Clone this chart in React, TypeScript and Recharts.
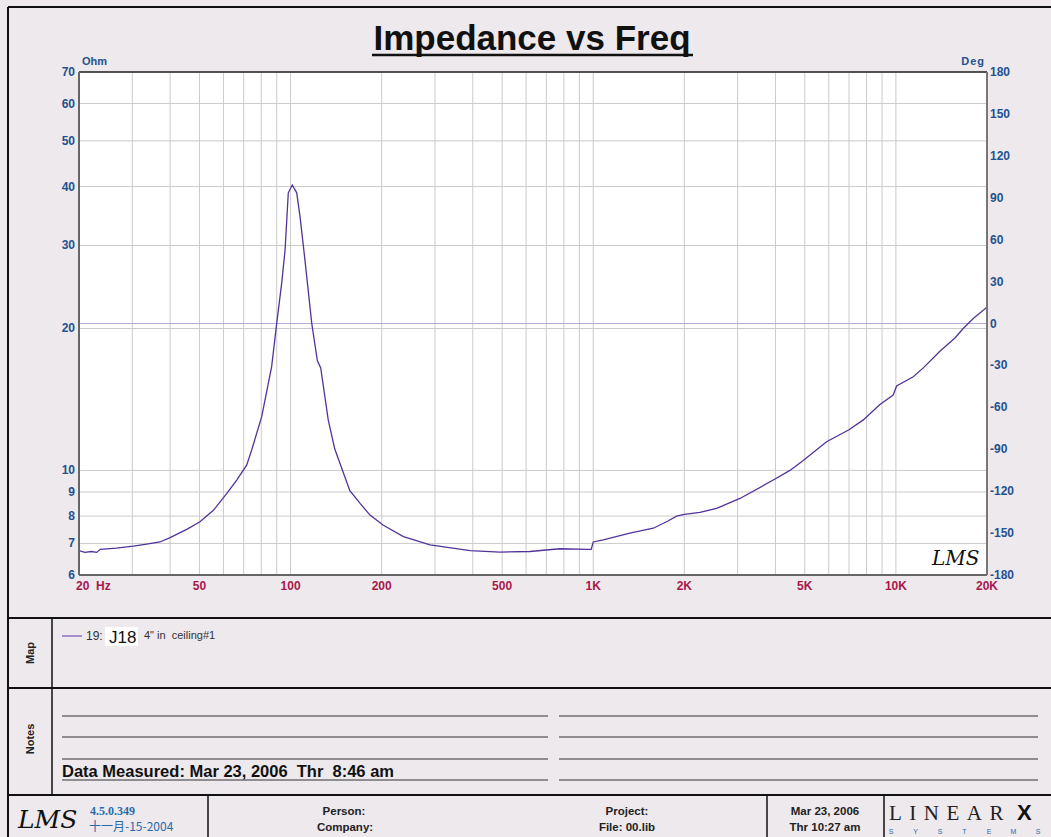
import React from "react";
import {
  LineChart,
  Line,
  XAxis,
  YAxis,
  CartesianGrid,
  ReferenceLine,
} from "recharts";

// impedance sweep
const freqHz = [
  20, 20.9, 22, 22.9, 23.5, 26.6, 30.2, 33.5, 37, 40, 45.4, 50.2, 55.6, 61.5,
  66.4, 71.6, 74.4, 80.3, 86.6, 90, 93.5, 95.9, 98.3, 101.3, 104.8, 107.5,
  111.6, 117.5, 122.6, 125.8, 133.2, 140, 157, 170, 183, 202, 236, 289, 392,
  492, 618, 776, 963, 985, 1000, 1079, 1322, 1579, 1760, 1886, 2000, 2252,
  2557, 3054, 3934, 4466, 4941, 5903, 7000, 7803, 8858, 9796, 10054, 11412,
  12317, 13977, 15670, 16690, 18010, 20000,
];
const impedanceOhm = [
  6.76, 6.7, 6.73, 6.7, 6.8, 6.84, 6.91, 6.98, 7.05, 7.2, 7.5, 7.78, 8.23,
  8.93, 9.54, 10.26, 11.05, 13.0, 16.6, 20.5, 25.0, 29.3, 38.8, 40.3, 38.8,
  34.5, 27.9, 20.5, 17.1, 16.5, 12.8, 11.1, 9.06, 8.5, 8.04, 7.66, 7.24, 6.95,
  6.76, 6.71, 6.73, 6.82, 6.8, 6.8, 7.05, 7.12, 7.36, 7.54, 7.8, 8.0, 8.07,
  8.15, 8.31, 8.72, 9.54, 10.0, 10.5, 11.5, 12.2, 12.8, 13.8, 14.45, 15.1,
  15.8, 16.5, 17.9, 19.1, 20.0, 21.0, 22.2,
];

const xGridTicks = [
  20, 30, 40, 50, 60, 70, 80, 90, 100, 200, 300, 400, 500, 600, 700, 800, 900,
  1000, 2000, 3000, 4000, 5000, 6000, 7000, 8000, 9000, 10000, 20000,
];
const xTickLabels: Record<number, string> = {
  50: "50",
  100: "100",
  200: "200",
  500: "500",
  1000: "1K",
  2000: "2K",
  5000: "5K",
  10000: "10K",
  20000: "20K",
};
const ohmTicks = [6, 7, 8, 9, 10, 20, 30, 40, 50, 60, 70];
const degTicks = [-180, -150, -120, -90, -60, -30, 0, 30, 60, 90, 120, 150, 180];
const systemsLetters = ["S", "Y", "S", "T", "E", "M", "S"];

const data = freqHz.map((f, i) => ({ f, z: impedanceOhm[i] }));

const BG = "#ede9ed";
const BLUE = "#24528f";
const CRIMSON = "#a9174b";
const PURPLE = "#52339a";
const SANS = "'Liberation Sans', Arial, sans-serif";
const SERIF = "'Liberation Serif', 'Times New Roman', serif";

const XTick = (props: any) => {
  const { x, payload } = props;
  const v = payload.value;
  if (v === 20) {
    return (
      <g>
        <text x={76} y={590} fill={CRIMSON} fontSize={12} fontWeight="bold" fontFamily={SANS}>
          20
        </text>
        <text x={96} y={590} fill={CRIMSON} fontSize={12} fontWeight="bold" fontFamily={SANS}>
          Hz
        </text>
      </g>
    );
  }
  const label = xTickLabels[v];
  if (!label) return <g />;
  return (
    <text x={x} y={590} textAnchor="middle" fill={CRIMSON} fontSize={12} fontWeight="bold" fontFamily={SANS}>
      {label}
    </text>
  );
};

const OhmTick = (props: any) => (
  <text x={75} y={props.y + 4} textAnchor="end" fill={BLUE} fontSize={12} fontWeight="bold" fontFamily={SANS}>
    {props.payload.value}
  </text>
);

const DegTick = (props: any) => (
  <text x={990} y={props.y + 4} textAnchor="start" fill={BLUE} fontSize={12} fontWeight="bold" fontFamily={SANS}>
    {props.payload.value}
  </text>
);

const Frame = () => (
  <svg width={1051} height={837} style={{ position: "absolute", left: 0, top: 0 }}>
    {/* outer frame and panel separators */}
    <line x1={8} y1={7} x2={1060} y2={7} stroke="#111" strokeWidth={2} />
    <line x1={8} y1={7} x2={8} y2={840} stroke="#111" strokeWidth={2} />
    <line x1={8} y1={618} x2={1060} y2={618} stroke="#111" strokeWidth={2} />
    <line x1={8} y1={688} x2={1060} y2={688} stroke="#111" strokeWidth={2} />
    <line x1={8} y1={795} x2={1060} y2={795} stroke="#111" strokeWidth={2} />
    <line x1={52} y1={618} x2={52} y2={795} stroke="#111" strokeWidth={1.5} />
    <line x1={208} y1={795} x2={208} y2={840} stroke="#111" strokeWidth={1.5} />
    <line x1={767} y1={795} x2={767} y2={840} stroke="#111" strokeWidth={1.5} />
    <line x1={884} y1={795} x2={884} y2={840} stroke="#111" strokeWidth={1.5} />

    {/* title */}
    <text x={532} y={50} textAnchor="middle" fontSize={35} fontWeight="bold" fontFamily={SANS} fill="#111">
      Impedance vs Freq
    </text>
    <line x1={372} y1={55} x2={693} y2={55} stroke="#111" strokeWidth={2.5} />

    {/* map panel */}
    <text x={34} y={653} transform="rotate(-90 34 653)" textAnchor="middle" fontSize={11} fontWeight="bold" fontFamily={SANS} fill="#222">
      Map
    </text>
    <line x1={62} y1={636} x2={82} y2={636} stroke="#8a70c8" strokeWidth={1.5} />
    <text x={86} y={640} fontSize={12} fontFamily={SANS} fill="#333">19:</text>
    <rect x={105} y={627} width={33} height={19} fill="#fff" />
    <text x={109} y={643} fontSize={17} fontFamily={SANS} fill="#111">J18</text>
    <text x={144} y={639} fontSize={11} fontFamily={SANS} fill="#333" style={{ whiteSpace: "pre" }}>
      4" in  ceiling#1
    </text>

    {/* notes panel */}
    <text x={34} y={739} transform="rotate(-90 34 739)" textAnchor="middle" fontSize={11} fontWeight="bold" fontFamily={SANS} fill="#222">
      Notes
    </text>
    {[716, 737, 759, 780].map((y) => (
      <g key={y}>
        <line x1={62} y1={y} x2={548} y2={y} stroke="#333" strokeWidth={1.2} />
        <line x1={559} y1={y} x2={1038} y2={y} stroke="#333" strokeWidth={1.2} />
      </g>
    ))}
    <text x={62} y={777} fontSize={16.5} fontWeight="bold" fontFamily={SANS} fill="#111" style={{ whiteSpace: "pre" }}>
      Data Measured: Mar 23, 2006  Thr  8:46 am
    </text>

    {/* footer */}
    <text x={18} y={828} fontSize={25} fontStyle="italic" fontFamily="'DejaVu Serif', serif" fill="#111">
      LMS
    </text>
    <text x={90} y={815} fontSize={12} fontWeight="bold" fontFamily={SERIF} fill="#2a6aa8">4.5.0.349</text>
    <text x={89} y={831} fontSize={12} fontFamily="'Noto Sans CJK SC', sans-serif" fill="#2a6aa8">十一月-15-2004</text>
    <text x={344} y={815} textAnchor="middle" fontSize={11.5} fontWeight="bold" fontFamily={SANS} fill="#222">Person:</text>
    <text x={345} y={831} textAnchor="middle" fontSize={11.5} fontWeight="bold" fontFamily={SANS} fill="#222">Company:</text>
    <text x={627} y={815} textAnchor="middle" fontSize={11.5} fontWeight="bold" fontFamily={SANS} fill="#222">Project:</text>
    <text x={627} y={831} textAnchor="middle" fontSize={11.5} fontWeight="bold" fontFamily={SANS} fill="#222">File: 00.lib</text>
    <text x={825} y={815} textAnchor="middle" fontSize={11.5} fontWeight="bold" fontFamily={SANS} fill="#222">Mar 23, 2006</text>
    <text x={825} y={831} textAnchor="middle" fontSize={11.5} fontWeight="bold" fontFamily={SANS} fill="#222">Thr 10:27 am</text>
    <text x={889} y={820} fontSize={21} fontFamily={SERIF} fill="#222" letterSpacing={7.5}>LINEAR</text>
    <text x={1017} y={820} fontSize={22} fontWeight="bold" fontFamily={SANS} fill="#111">X</text>
    {systemsLetters.map((c, i) => (
      <text key={i} x={891 + i * 24.5} y={834} fontSize={7} fontFamily={SANS} fill="#2a6aa8" textAnchor="middle">
        {c}
      </text>
    ))}
  </svg>
);

export default function App() {
  return (
    <div
      style={{
        position: "absolute",
        left: 0,
        top: 0,
        width: 1051,
        height: 837,
        overflow: "hidden",
        background: BG,
      }}
    >
      <Frame />
      <div style={{ position: "absolute", left: 0, top: 0 }}>
        <LineChart
          width={1051}
          height={610}
          data={data}
          margin={{ top: 72, right: 14, bottom: 15, left: 29 }}
        >
          <CartesianGrid
            xAxisId="f"
            yAxisId="ohm"
            stroke="#cbcbcb"
            strokeWidth={1}
            fill="#ffffff"
            fillOpacity={1}
          />
          <XAxis
            xAxisId="f"
            dataKey="f"
            type="number"
            scale="log"
            domain={[20, 20000]}
            ticks={xGridTicks}
            interval={0}
            allowDataOverflow
            height={20}
            tickLine={false}
            axisLine={{ stroke: "#666", strokeWidth: 2 }}
            tick={<XTick />}
          />
          <YAxis
            yAxisId="ohm"
            type="number"
            scale="log"
            domain={[6, 70]}
            ticks={ohmTicks}
            interval={0}
            allowDataOverflow
            width={50}
            tickLine={false}
            axisLine={{ stroke: "#666", strokeWidth: 2 }}
            tick={<OhmTick />}
            label={{
              value: "Ohm",
              content: () => (
                <text x={82} y={65} fontSize={11} fontWeight="bold" fontFamily={SANS} fill={BLUE}>
                  Ohm
                </text>
              ),
            }}
          />
          <YAxis
            yAxisId="deg"
            orientation="right"
            type="number"
            domain={[-180, 180]}
            ticks={degTicks}
            interval={0}
            allowDataOverflow
            width={50}
            tickLine={false}
            axisLine={{ stroke: "#777", strokeWidth: 2 }}
            tick={<DegTick />}
            label={{
              value: "Deg",
              content: () => (
                <text x={985} y={65} textAnchor="end" fontSize={11} fontWeight="bold" fontFamily={SANS} fill={BLUE} letterSpacing={1}>
                  Deg
                </text>
              ),
            }}
          />
          <ReferenceLine xAxisId="f" yAxisId="deg" y={0} stroke="#b9abd9" strokeWidth={1} />
          <ReferenceLine xAxisId="f" yAxisId="ohm" y={70} stroke="#222" strokeWidth={1.5} />
          <Line
            xAxisId="f"
            yAxisId="ohm"
            type="linear"
            dataKey="z"
            stroke={PURPLE}
            strokeWidth={1.3}
            dot={false}
            isAnimationActive={false}
          />
          <text x={932} y={565} fontSize={20} fontStyle="italic" fontFamily="'DejaVu Serif', serif" fill="#111">
            LMS
          </text>
        </LineChart>
      </div>
    </div>
  );
}
